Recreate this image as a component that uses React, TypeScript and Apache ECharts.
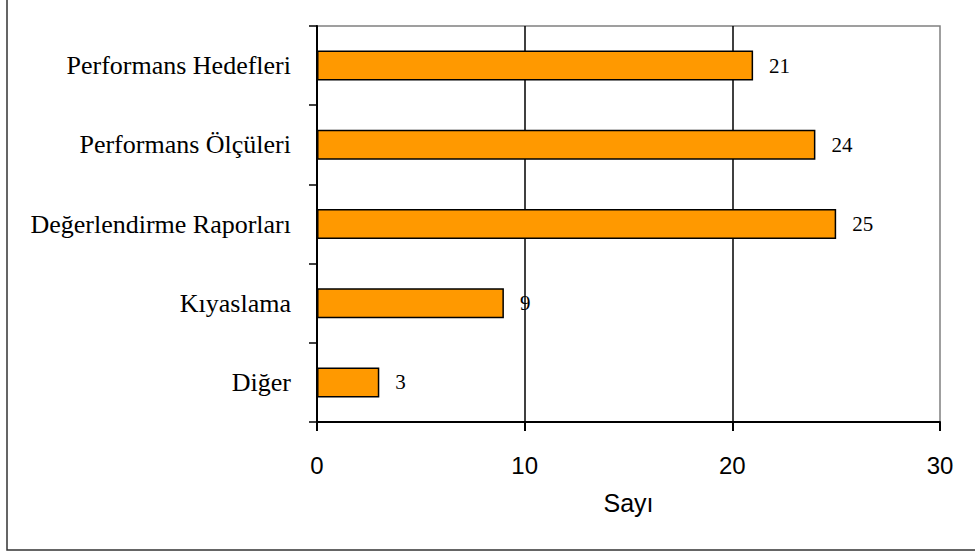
import React, { useEffect, useRef } from "react";
import * as echarts from "echarts";

const categories = [
  "Performans Hedefleri",
  "Performans Ölçüleri",
  "Değerlendirme Raporları",
  "Kıyaslama",
  "Diğer",
];
const values = [21, 24, 25, 9, 3];
const xTicks = [0, 10, 20, 30];
const xAxisName = "Sayı";

export default function App() {
  const ref = useRef<HTMLDivElement>(null);
  useEffect(() => {
    document.body.style.margin = "0";
    const chart = echarts.init(ref.current!, undefined, { renderer: "svg" });
    chart.setOption({
      animation: false,
      backgroundColor: "#ffffff",
      graphic: [
        {
          type: "rect",
          shape: { x: 7, y: -5, width: 1000, height: 555 },
          style: { fill: "none", stroke: "#333333", lineWidth: 1.5 },
          z: 0,
        },
      ],
      grid: {
        left: 317,
        right: 35,
        top: 26,
        bottom: 133,
        show: true,
        borderColor: "#808080",
        borderWidth: 1.5,
        backgroundColor: "transparent",
      },
      xAxis: {
        type: "value",
        min: xTicks[0],
        max: xTicks[xTicks.length - 1],
        interval: 10,
        name: xAxisName,
        nameLocation: "middle",
        nameGap: 68,
        nameTextStyle: { fontFamily: "Liberation Sans", fontSize: 25, color: "#000" },
        axisLine: { show: true, lineStyle: { color: "#000", width: 2 } },
        axisTick: { show: true, length: 9, lineStyle: { color: "#000", width: 2 } },
        axisLabel: {
          fontFamily: "Liberation Sans",
          fontSize: 24,
          color: "#000",
          margin: 31,
        },
        splitLine: { show: true, showMinLine: false, showMaxLine: false, lineStyle: { color: "#000", width: 1.5 } },
      },
      yAxis: {
        type: "category",
        data: categories,
        inverse: true,
        axisLine: { show: true, lineStyle: { color: "#000", width: 2 } },
        axisTick: { show: true, length: 8, alignWithLabel: false, lineStyle: { color: "#000", width: 1.5 } },
        axisLabel: {
          fontFamily: "Liberation Serif",
          fontSize: 26,
          color: "#000",
          margin: 26,
        },
        splitLine: { show: false },
      },
      series: [
        {
          type: "bar",
          data: values,
          barWidth: 30,
          itemStyle: { color: "#FF9900", borderColor: "#000", borderWidth: 1.5 },
          label: {
            show: true,
            position: "right",
            distance: 16,
            fontFamily: "Liberation Serif",
            fontSize: 21,
            color: "#000",
          },
        },
      ],
    });
    return () => chart.dispose();
  }, []);
  return (
    <div
      ref={ref}
      style={{ width: 975, height: 555, position: "absolute", left: 0, top: 0 }}
    />
  );
}
